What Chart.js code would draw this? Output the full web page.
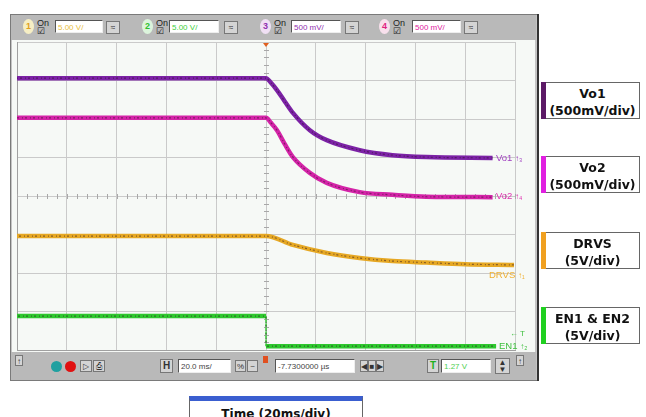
<!DOCTYPE html>
<html>
<head>
<meta charset="utf-8">
<script src="https://cdn.jsdelivr.net/npm/chart.js@4.4.1/dist/chart.umd.min.js"></script>
<style>
  body { margin:0; width:646px; height:417px; position:relative; background:#fff; overflow:hidden; font-family:"Liberation Sans", Arial, sans-serif; }
  .abs { position:absolute; }
  .bar { background:#b9b9b9; }
  .field { position:absolute; height:13px; background:#fff; border-top:1px solid #555; border-left:1px solid #555; border-right:1px solid #eee; border-bottom:1px solid #eee; font-size:8px; line-height:13px; padding-left:2px; box-sizing:border-box; white-space:nowrap; }
  .btn { position:absolute; background:#d4d4d4; border:1px solid #777; box-sizing:border-box; font-size:8px; line-height:11px; text-align:center; color:#333; }
  .chip { position:absolute; width:11px; height:15px; border-radius:50%; font-size:9px; line-height:15px; text-align:center; font-weight:bold; }
  .on { position:absolute; font-size:9px; line-height:8px; color:#222; }
  .lbl { position:absolute; font-size:9.5px; white-space:nowrap; }
  .legend { position:absolute; left:541px; width:99px; height:37px; background:#fff; border:1px solid #666; border-left:none; box-sizing:border-box; font-family:"DejaVu Sans", sans-serif; font-weight:bold; font-size:12.5px; line-height:17px; text-align:center; color:#111; padding-top:2px; padding-left:5px; }
  .legend i { position:absolute; left:0; top:-1px; width:5px; height:37px; }
</style>
</head>
<body>
<!-- scope window -->
<div class="abs" style="left:10px;top:14px;width:528px;height:367px;background:#c4c4c4;border:1px solid #7a7a7a;box-sizing:border-box;"></div>
<div class="abs" style="left:537px;top:14px;width:2px;height:367px;background:#333;"></div>
<div class="abs bar" style="left:11px;top:15px;width:525px;height:25px;"></div>
<div class="abs" style="left:12px;top:40px;width:523px;height:312px;background:#f6f9f6;"></div>
<div class="abs bar" style="left:11px;top:352px;width:525px;height:28px;"></div>

<!-- channel bar -->
<div class="chip" style="left:23px;top:19px;background:#f6eec4;color:#e0a020;">1</div>
<div class="on" style="left:37px;top:19px;">On<br>&#9745;</div>
<div class="field" style="left:55px;top:20px;width:48px;color:#e8c040;">5.00 V/</div>
<div class="btn" style="left:106px;top:21px;width:14px;height:13px;">&#8776;</div>

<div class="chip" style="left:142px;top:19px;background:#dcf4dc;color:#30c030;">2</div>
<div class="on" style="left:156px;top:19px;">On<br>&#9745;</div>
<div class="field" style="left:169px;top:20px;width:50px;color:#40d040;">5.00 V/</div>
<div class="btn" style="left:224px;top:21px;width:14px;height:13px;">&#8776;</div>

<div class="chip" style="left:260px;top:19px;background:#f0e0f4;color:#9030b0;">3</div>
<div class="on" style="left:274px;top:19px;">On<br>&#9745;</div>
<div class="field" style="left:291px;top:20px;width:50px;color:#9030b0;">500 mV/</div>
<div class="btn" style="left:345px;top:21px;width:14px;height:13px;">&#8776;</div>

<div class="chip" style="left:379px;top:19px;background:#f8e0ec;color:#e02080;">4</div>
<div class="on" style="left:393px;top:19px;">On<br>&#9745;</div>
<div class="field" style="left:412px;top:20px;width:49px;color:#e020a0;">500 mV/</div>
<div class="btn" style="left:464px;top:21px;width:14px;height:13px;">&#8776;</div>

<!-- bottom bar -->
<div class="btn" style="left:15px;top:355px;width:8px;height:11px;">&#8593;</div>
<div class="abs" style="left:51px;top:361px;width:11px;height:11px;border-radius:50%;background:#20a0a0;"></div>
<div class="abs" style="left:65px;top:361px;width:11px;height:11px;border-radius:50%;background:#e01010;"></div>
<div class="btn" style="left:80px;top:360px;width:12px;height:12px;">&#9655;</div>
<div class="btn" style="left:93px;top:360px;width:12px;height:12px;">&#9113;</div>
<div class="btn" style="left:160px;top:359px;width:13px;height:14px;font-weight:bold;font-size:10px;line-height:12px;">H</div>
<div class="field" style="left:178px;top:359px;width:53px;height:14px;color:#444;">20.0 ms/</div>
<div class="btn" style="left:235px;top:360px;width:11px;height:12px;">%</div>
<div class="btn" style="left:247px;top:360px;width:11px;height:12px;">~</div>
<div class="abs" style="left:263px;top:356px;width:5px;height:7px;background:#e05020;"></div>
<div class="field" style="left:275px;top:359px;width:80px;height:14px;color:#444;">-7.7300000 &micro;s</div>
<div class="btn" style="left:360px;top:360px;width:8px;height:12px;">&#9664;</div>
<div class="btn" style="left:368px;top:360px;width:8px;height:12px;">&#9632;</div>
<div class="btn" style="left:376px;top:360px;width:8px;height:12px;">&#9654;</div>
<div class="btn" style="left:427px;top:359px;width:12px;height:14px;color:#20b020;font-weight:bold;font-size:10px;line-height:12px;">T</div>
<div class="field" style="left:441px;top:359px;width:50px;height:14px;color:#50d050;">1.27 V</div>
<div class="btn" style="left:495px;top:358px;width:15px;height:16px;line-height:7px;">&#9650;<br>&#9660;</div>
<div class="btn" style="left:516px;top:355px;width:8px;height:11px;">&#8593;</div>

<canvas id="scope" width="646" height="417" class="abs" style="left:0;top:0;"></canvas>

<!-- trace labels -->
<div class="lbl" style="left:496px;top:152px;color:#a040c0;">Vo1 <span style="font-size:8px">&#8593;&#8323;</span></div>
<div class="lbl" style="left:496px;top:190px;color:#e030b0;">Vo2 <span style="font-size:8px">&#8593;&#8324;</span></div>
<div class="lbl" style="left:489px;top:269px;color:#f0b030;">DRVS <span style="font-size:8px">&#8593;&#8321;</span></div>
<div class="lbl" style="left:510px;top:329px;color:#40c040;font-size:8px;">&#8592; T</div>
<div class="lbl" style="left:499px;top:340px;color:#40c040;">EN1 <span style="font-size:8px">&#8593;&#8322;</span></div>

<!-- channel legend -->
<div class="legend" style="top:82px;"><i style="background:#5c1a66;"></i>Vo1<br>(500mV/div)</div>
<div class="legend" style="top:156px;"><i style="background:#e020e0;"></i>Vo2<br>(500mV/div)</div>
<div class="legend" style="top:232px;"><i style="background:#f0a020;"></i>DRVS<br>(5V/div)</div>
<div class="legend" style="top:307px;"><i style="background:#20d020;"></i>EN1 &amp; EN2<br>(5V/div)</div>

<div class="abs" style="left:189px;top:396px;width:174px;height:34px;border:1px solid #666;border-top:5px solid #3a5ed0;background:#fff;box-sizing:border-box;font-family:'DejaVu Sans',sans-serif;font-weight:bold;font-size:12px;text-align:center;line-height:27px;color:#111;">Time (20ms/div)</div>

<script>
// time axis in ms (20 ms/div, trigger at 0), values in screen divisions
var vo1Time = [-100, 0, 2, 4.4, 7.6, 10.8, 17.6, 24.4, 37.6, 50.8, 64.4, 91];
var vo1Div  = [3.06, 3.06, 2.94, 2.75, 2.45, 2.16, 1.71, 1.45, 1.19, 1.06, 1.01, 0.99];

var vo2Time = [-100, 0, 2, 4.4, 7.6, 10.8, 17.6, 24.4, 37.6, 50.8, 64.4, 91];
var vo2Div  = [2.03, 2.03, 1.90, 1.71, 1.34, 1.01, 0.60, 0.34, 0.10, 0.03, -0.02, -0.03];

var drvsTime = [-100, 0, 10.8, 24.4, 37.6, 50.8, 64.4, 80, 99.6];
var drvsDiv  = [-1.04, -1.04, -1.27, -1.48, -1.61, -1.69, -1.73, -1.77, -1.79];

var enTime = [-100, 0, 0, 92.4];
var enDiv  = [-3.12, -3.12, -3.9, -3.9];

var xTicks = { min: -100, max: 100, step: 20 };
var yTicks = { min: -4, max: 4, step: 1 };

function pts(t, v) {
  return t.map(function(x, i) { return { x: x, y: v[i] }; });
}

function isStep(ctx) { return ctx.p0.parsed.x === ctx.p1.parsed.x; }

function trace(t, v, color, smooth) {
  return {
    data: pts(t, v),
    order: 2,
    borderColor: color,
    borderWidth: 4.5,
    pointRadius: 0,
    cubicInterpolationMode: smooth ? 'monotone' : 'default',
    tension: 0,
    segment: {
      borderWidth: function(ctx) { return isStep(ctx) ? 1 : undefined; },
      borderDash: function(ctx) { return isStep(ctx) ? [2, 2] : undefined; }
    }
  };
}

// thin dark dotted line on top of each trace, like the scope's noise speckle
function speckle(t, v, smooth, offset) {
  return {
    data: pts(t, v),
    order: 1,
    borderColor: 'rgba(45,20,35,0.5)',
    borderWidth: 1.2,
    borderDash: [1, 2, 2, 3],
    borderDashOffset: offset,
    pointRadius: 0,
    cubicInterpolationMode: smooth ? 'monotone' : 'default',
    tension: 0,
    segment: {
      borderWidth: function(ctx) { return isStep(ctx) ? 0 : undefined; }
    }
  };
}

// center cross with minor ticks + trigger marker
var scopeDecor = {
  id: 'scopeDecor',
  beforeDatasetsDraw: function(chart) {
    var c = chart.ctx, xs = chart.scales.x, ys = chart.scales.y;
    var x0 = xs.getPixelForValue(0), y0 = ys.getPixelForValue(0);
    c.save();
    c.strokeStyle = '#a8a8a8';
    c.lineWidth = 1;
    c.beginPath();
    for (var t = xTicks.min; t <= xTicks.max; t += xTicks.step / 5) {
      var px = Math.round(xs.getPixelForValue(t)) + 0.5;
      c.moveTo(px, y0 - 2); c.lineTo(px, y0 + 3);
    }
    for (var d = yTicks.min; d <= yTicks.max; d += yTicks.step / 5) {
      var py = Math.round(ys.getPixelForValue(d)) + 0.5;
      c.moveTo(x0 - 2, py); c.lineTo(x0 + 3, py);
    }
    c.stroke();
    c.fillStyle = '#e06020';
    c.beginPath();
    c.moveTo(x0 - 3, chart.chartArea.top + 1);
    c.lineTo(x0 + 3, chart.chartArea.top + 1);
    c.lineTo(x0, chart.chartArea.top + 5);
    c.fill();
    c.restore();
  }
};

var ctx = document.getElementById('scope').getContext('2d');
var chart = new Chart(ctx, {
  type: 'line',
  data: {
    datasets: [
      trace(vo1Time, vo1Div, '#7c22a6', true),
      trace(vo2Time, vo2Div, '#d424a8', true),
      trace(drvsTime, drvsDiv, '#e6a824', true),
      trace(enTime, enDiv, '#2ec82e', false),
      speckle(vo1Time, vo1Div, true, 0),
      speckle(vo2Time, vo2Div, true, 3),
      speckle(drvsTime, drvsDiv, true, 1),
      speckle(enTime, enDiv, false, 2)
    ]
  },
  options: {
    responsive: false,
    animation: false,
    devicePixelRatio: 1,
    layout: { padding: { left: 17, top: 42, right: 131, bottom: 67 } },
    plugins: { legend: { display: false }, tooltip: { enabled: false } },
    scales: {
      x: {
        type: 'linear', min: xTicks.min, max: xTicks.max,
        ticks: { display: false, stepSize: xTicks.step },
        grid: { color: '#cacaca', drawTicks: false },
        border: { color: '#a0a0a0' }
      },
      y: {
        type: 'linear', min: yTicks.min, max: yTicks.max,
        ticks: { display: false, stepSize: yTicks.step },
        grid: { color: '#cacaca', drawTicks: false },
        border: { color: '#a0a0a0' }
      }
    }
  },
  plugins: [scopeDecor]
});
</script>
</body>
</html>
